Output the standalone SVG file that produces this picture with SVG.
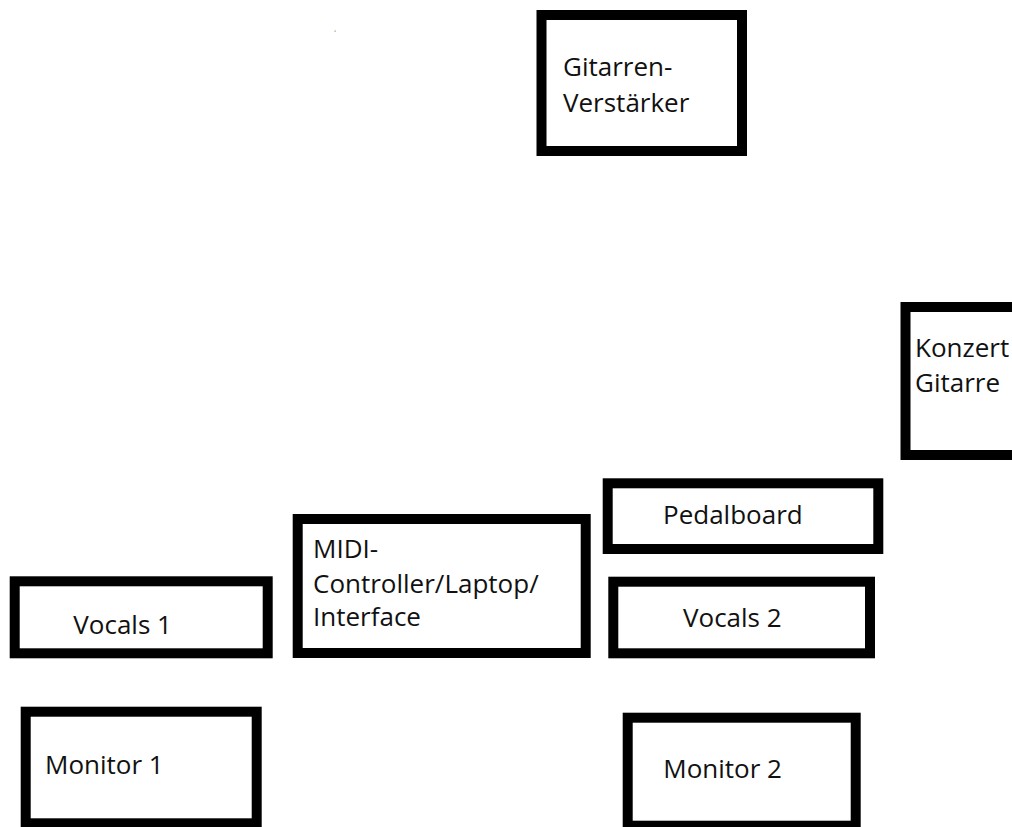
<svg xmlns="http://www.w3.org/2000/svg" width="1012" height="827" viewBox="0 0 1012 827">
<style>
.box{fill:#fff;stroke:#000;stroke-width:10}
.lbl{font-family:"Open Sans","Liberation Sans",sans-serif;font-size:26px;fill:#111}
</style>
<rect width="1012" height="827" fill="#fff"/>
<rect x="334.5" y="30.5" width="1.2" height="1.2" fill="#b08a60"/>
<g id="gitarren-verstaerker">
<rect class="box" x="541.5" y="15" width="200.5" height="136"/>
<text class="lbl" x="563" y="76">Gitarren-</text>
<text class="lbl" x="563" y="111.5">Verstärker</text>
</g>
<g id="konzert-gitarre">
<rect class="box" x="905.5" y="307" width="130" height="148"/>
<text class="lbl" x="915" y="357">Konzert</text>
<text class="lbl" x="915" y="392">Gitarre</text>
</g>
<g id="midi">
<rect class="box" x="297.7" y="519" width="288" height="134"/>
<text class="lbl" x="313" y="558">MIDI-</text>
<text class="lbl" x="313" y="593">Controller/Laptop/</text>
<text class="lbl" x="313" y="626">Interface</text>
</g>
<g id="pedalboard">
<rect class="box" x="607.7" y="483.3" width="270.6" height="65.7"/>
<text class="lbl" x="663" y="524">Pedalboard</text>
</g>
<g id="vocals2">
<rect class="box" x="613.3" y="581.7" width="256.7" height="71.6"/>
<text class="lbl" x="683" y="626.7">Vocals 2</text>
</g>
<g id="vocals1">
<rect class="box" x="14.7" y="581.3" width="253" height="72"/>
<text class="lbl" x="73.3" y="634">Vocals 1</text>
</g>
<g id="monitor1">
<rect class="box" x="25.7" y="711.7" width="231" height="111.6"/>
<text class="lbl" x="45" y="774">Monitor 1</text>
</g>
<g id="monitor2">
<rect class="box" x="627.7" y="717.7" width="228" height="108"/>
<text class="lbl" x="663.3" y="778.3">Monitor 2</text>
</g>
<g id="connectors"></g>
</svg>
